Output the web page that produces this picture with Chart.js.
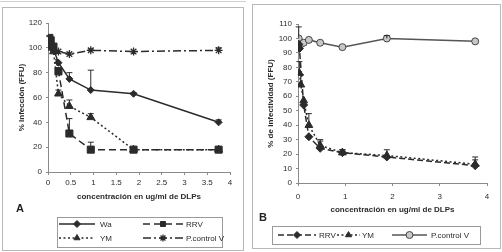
<!DOCTYPE html>
<html><head><meta charset="utf-8">
<script src="https://cdn.jsdelivr.net/npm/chart.js@4/dist/chart.umd.min.js"></script>
<style>
html,body{margin:0;padding:0;background:#fff;width:502px;height:252px;overflow:hidden;}
.panel{position:absolute;border:1px solid #b8b8b8;background:#fff;}
#pA{left:2px;top:7px;width:240px;height:242px;}
#pB{left:252px;top:4px;width:247px;height:243px;}
canvas{position:absolute;left:0;top:0;}
.lbl{position:absolute;font:bold 11px "Liberation Sans",Arial,sans-serif;color:#222;}
#topline{position:absolute;left:0;top:1px;width:246px;height:0;border-top:1px solid #d0d0d0;}
</style></head><body>
<div id="topline"></div>
<div class="panel" id="pA"><canvas id="cA" width="240" height="242"></canvas><div class="lbl" style="left:13px;top:194px">A</div></div>
<div class="panel" id="pB"><canvas id="cB" width="247" height="243"></canvas><div class="lbl" style="left:6px;top:206px">B</div></div>
<script>
// ---------- Data: panel A ----------
const seriesA = ['Wa', 'RRV', 'YM', 'P.control V'];
const xA = [0.03, 0.06, 0.12, 0.23, 0.47, 0.94, 1.88, 3.75];
const waA = [105, 103, 99, 88, 75, 66, 63, 40];
const rrvA = [108, 106, 101, 81, 31, 18, 18, 18];
const ymA = [106, 101, 97, 63, 53, 44, 18, 18];
const pcA = [103, 100, 98, 97, 95, 98, 97, 98];
const waAErr = [4, 0, 0, 0, 5, 16, 1, 2];
const rrvAErr = [2, 0, 0, 3, 12, 6, 0, 0];
const ymAErr = [0, 0, 0, 3, 5, 3, 0, 0];
const pcAErr = [0, 0, 0, 0, 0, 1, 0, 2];
const xTicksA = ['0', '0.5', '1', '1.5', '2', '2.5', '3', '3.5', '4'];

// ---------- Data: panel B ----------
const seriesB = ['RRV', 'YM', 'P.control V'];
const rrvBx = [0.015, 0.03, 0.12, 0.23, 0.47, 0.94, 1.88, 3.75];
const rrvB = [96, 93, 54, 32, 24, 21, 18, 12];
const rrvBErr = [0, 0, 0, 0, 5, 2, 0, 4];
const ymBx = [0.03, 0.06, 0.12, 0.23, 0.47, 0.94, 1.88, 3.75];
const ymB = [76, 68, 57, 40, 26, 21, 19, 13];
const ymBErr = [8, 7, 0, 8, 4, 2, 4, 5];
const pcBx = [0.015, 0.06, 0.12, 0.23, 0.47, 0.94, 1.88, 3.75];
const pcB = [100, 96, 97, 99, 97, 94, 100, 98];
const pcBErr = [8, 0, 0, 0, 0, 0, 2, 0];
const xTicksB = ['0', '1', '2', '3', '4'];

const xTitle = 'concentración en ug/ml de DLPs';
const yTitleA = '% Infección (FFU)';
const yTitleB = '% de infectividad (FFU)';

const FONT = '"Liberation Sans", Arial, sans-serif';
const INK = '#2b2b2b';

function pts(xs, ys) { return xs.map((x, i) => ({x: x, y: ys[i]})); }

function drawMarker(ctx, style, x, y, r, fill, stroke) {
  ctx.save();
  ctx.fillStyle = fill; ctx.strokeStyle = stroke; ctx.lineWidth = 1; ctx.setLineDash([]);
  ctx.beginPath();
  if (style === 'rect') { const s = r * Math.SQRT2 / 2; ctx.rect(x - s, y - s, 2 * s, 2 * s); ctx.fill(); ctx.stroke(); }
  else if (style === 'rectRot') { ctx.moveTo(x, y - r); ctx.lineTo(x + r, y); ctx.lineTo(x, y + r); ctx.lineTo(x - r, y); ctx.closePath(); ctx.fill(); ctx.stroke(); }
  else if (style === 'triangle') { ctx.moveTo(x, y - r); ctx.lineTo(x + r * 0.87, y + r * 0.5); ctx.lineTo(x - r * 0.87, y + r * 0.5); ctx.closePath(); ctx.fill(); ctx.stroke(); }
  else if (style === 'star') { const d = r * 0.7; ctx.moveTo(x - d, y - d); ctx.lineTo(x + d, y + d); ctx.moveTo(x + d, y - d); ctx.lineTo(x - d, y + d); ctx.moveTo(x, y - r); ctx.lineTo(x, y + r); ctx.moveTo(x - r, y); ctx.lineTo(x + r, y); ctx.lineWidth = 1.3; ctx.stroke(); }
  else { ctx.arc(x, y, r, 0, Math.PI * 2); ctx.fill(); ctx.stroke(); }
  ctx.restore();
}

// Error bars (plus side) drawn through the chart scales
const errorBars = {
  id: 'errorBars',
  afterDatasetsDraw(chart) {
    const ctx = chart.ctx, xs = chart.scales.x, ys = chart.scales.y;
    chart.data.datasets.forEach((ds) => {
      if (!ds.err) return;
      ctx.save();
      ctx.strokeStyle = INK; ctx.lineWidth = 1; ctx.setLineDash([]);
      ds.data.forEach((p, i) => {
        const e = ds.err[i];
        if (!e) return;
        const px = xs.getPixelForValue(p.x);
        const y0 = ys.getPixelForValue(p.y);
        const y1 = ys.getPixelForValue(p.y + e);
        ctx.beginPath();
        ctx.moveTo(px, y0); ctx.lineTo(px, y1);
        ctx.moveTo(px - 3, y1); ctx.lineTo(px + 3, y1);
        ctx.stroke();
      });
      ctx.restore();
    });
  }
};

// Boxed legend drawn from the datasets
const boxLegend = {
  id: 'boxLegend',
  afterDraw(chart, args, opts) {
    if (!opts || !opts.items) return;
    const ctx = chart.ctx;
    ctx.save();
    ctx.strokeStyle = '#9a9a9a'; ctx.lineWidth = 1; ctx.setLineDash([]);
    const b = opts.box;
    ctx.strokeRect(b[0] + 0.5, b[1] + 0.5, b[2], b[3]);
    ctx.font = '8px ' + FONT; ctx.fillStyle = INK; ctx.textBaseline = 'middle';
    opts.items.forEach((it) => {
      const ds = chart.data.datasets[it.ds];
      ctx.save();
      ctx.strokeStyle = ds.borderColor; ctx.lineWidth = ds.borderWidth;
      ctx.setLineDash(ds.borderDash || []);
      ctx.beginPath(); ctx.moveTo(it.x1, it.y); ctx.lineTo(it.x2, it.y); ctx.stroke();
      ctx.restore();
      drawMarker(ctx, ds.pointStyle, (it.x1 + it.x2) / 2, it.y, Math.min(ds.pointRadius, 3.5), ds.pointBackgroundColor, ds.pointBorderColor);
      ctx.fillText(ds.label, it.tx, it.y + 0.5);
    });
    ctx.restore();
  }
};

function baseOptions(cfg) {
  return {
    responsive: false, animation: false, devicePixelRatio: 1,
    layout: {padding: cfg.pad},
    plugins: {legend: {display: false}, tooltip: {enabled: false}, boxLegend: cfg.legend},
    scales: {
      x: {
        type: 'linear', min: 0, max: 4,
        ticks: {stepSize: cfg.xStep, color: INK, font: {family: FONT, size: 8}, padding: cfg.xTickPad, maxRotation: 0,
          callback: (v, i) => cfg.xLabels[i]},
        grid: {drawOnChartArea: false, drawTicks: true, tickLength: 3, color: '#8a8a8a'},
        border: {display: true, color: '#8a8a8a'},
        title: {display: true, text: xTitle, color: INK, font: {family: FONT, size: 8, weight: 'bold'}, padding: {top: 0, bottom: cfg.xTitlePad}},
        afterFit(s) { s.height = cfg.xH; }
      },
      y: {
        min: 0, max: cfg.yMax,
        ticks: {stepSize: 10, color: INK, font: {family: FONT, size: 8}, padding: 4},
        grid: {drawOnChartArea: false, drawTicks: true, tickLength: 2, color: '#8a8a8a'},
        border: {display: true, color: '#8a8a8a'},
        title: {display: true, text: cfg.yTitle, color: INK, font: {family: FONT, size: 8, weight: 'bold'}, padding: {top: cfg.yTitlePad, bottom: 0}},
        afterFit(s) { s.width = cfg.yW; }
      }
    }
  };
}

function ds(label, xs, ys, err, style) {
  return Object.assign({
    label: label, data: pts(xs, ys), err: err,
    borderColor: INK, borderWidth: 1.5, tension: 0,
    pointBackgroundColor: INK, pointBorderColor: INK, pointBorderWidth: 1
  }, style);
}

// ---------- Chart A ----------
new Chart(document.getElementById('cA'), {
  type: 'line',
  data: {datasets: [
    ds(seriesA[0], xA, waA, waAErr, {pointStyle: 'rectRot', pointRadius: 3.5}),
    ds(seriesA[1], xA, rrvA, rrvAErr, {pointStyle: 'rect', pointRadius: 5, borderDash: [7, 4]}),
    ds(seriesA[2], xA, ymA, ymAErr, {pointStyle: 'triangle', pointRadius: 4.5, borderDash: [2, 2.5]}),
    ds(seriesA[3], xA, pcA, pcAErr, {pointStyle: 'star', pointRadius: 4, borderDash: [8, 3, 2, 3], pointBorderWidth: 1.3})
  ]},
  options: baseOptions({
    pad: {left: 0, top: 15, right: 13, bottom: 46},
    xStep: 0.5, xTickPad: 3, xH: 32, xTitlePad: 2, xLabels: xTicksA,
    yMax: 120, yTitle: yTitleA, yTitlePad: 14, yW: 45,
    legend: {
      box: [54, 209, 165, 30],
      items: [
        {ds: 0, x1: 56, x2: 92, y: 216, tx: 97},
        {ds: 1, x1: 140, x2: 180, y: 216, tx: 183},
        {ds: 2, x1: 56, x2: 92, y: 230, tx: 97},
        {ds: 3, x1: 140, x2: 180, y: 230, tx: 183}
      ]
    }
  }),
  plugins: [errorBars, boxLegend]
});

// ---------- Chart B ----------
new Chart(document.getElementById('cB'), {
  type: 'line',
  data: {datasets: [
    ds(seriesB[0], rrvBx, rrvB, rrvBErr, {pointStyle: 'rectRot', pointRadius: 4, borderDash: [6, 3]}),
    ds(seriesB[1], ymBx, ymB, ymBErr, {pointStyle: 'triangle', pointRadius: 4.5, borderDash: [2, 2.5]}),
    ds(seriesB[2], pcBx, pcB, pcBErr, {pointStyle: 'circle', pointRadius: 3.5, borderColor: '#555', pointBackgroundColor: '#c8c8c8', pointBorderColor: '#444'})
  ]},
  options: baseOptions({
    pad: {left: 0, top: 19, right: 13, bottom: 33},
    xStep: 1, xTickPad: 6, xH: 32, xTitlePad: 0, xLabels: xTicksB,
    yMax: 110, yTitle: yTitleB, yTitlePad: 13, yW: 45,
    legend: {
      box: [19, 221, 208, 18],
      items: [
        {ds: 0, x1: 25, x2: 63, y: 230, tx: 66},
        {ds: 1, x1: 84, x2: 107, y: 230, tx: 109},
        {ds: 2, x1: 139, x2: 174, y: 230, tx: 178}
      ]
    }
  }),
  plugins: [errorBars, boxLegend]
});
</script>
</body></html>
